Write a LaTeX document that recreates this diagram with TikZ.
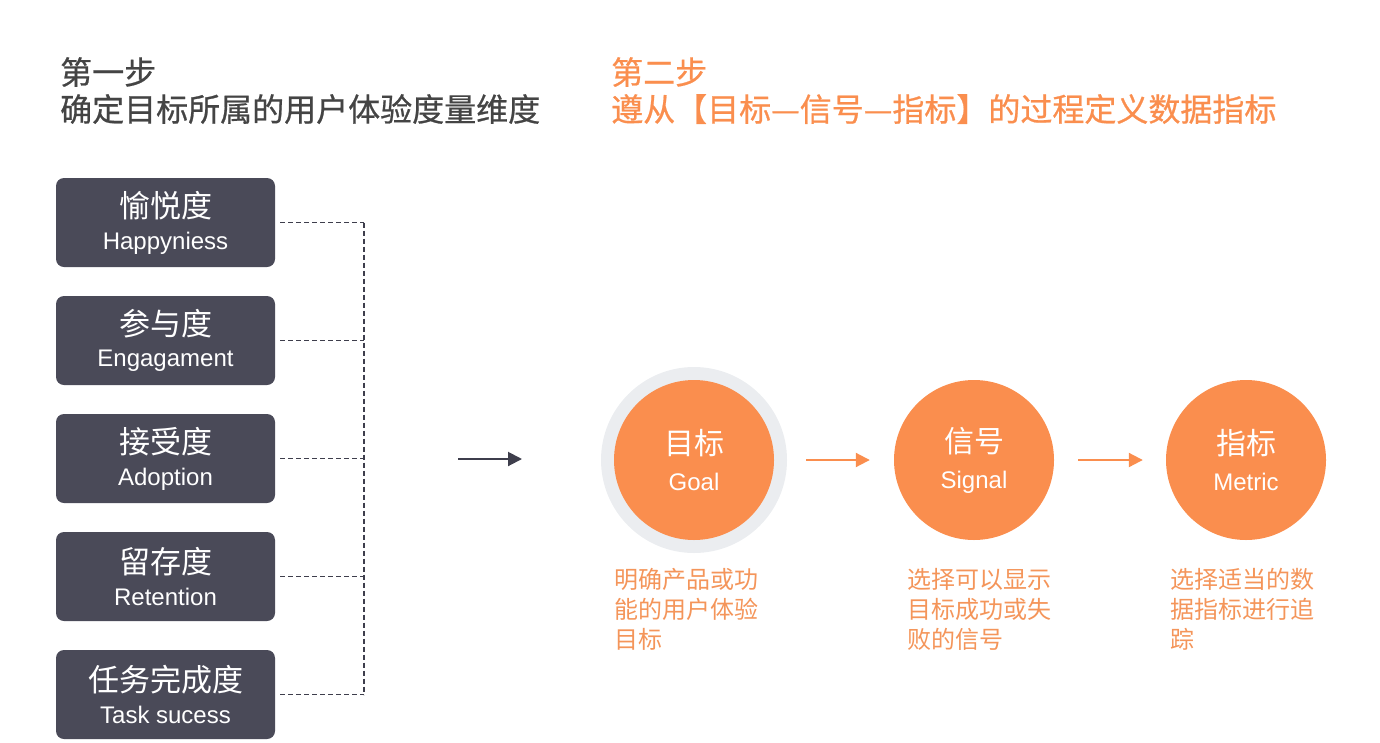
\documentclass[tikz,border=0pt]{standalone}
\usepackage{fontspec}
\newfontfamily\cjk{Noto Sans CJK SC}
\newfontfamily\cjkt[FakeBold=0.7]{Noto Sans CJK SC}
\newfontfamily\en{Liberation Sans}
\usetikzlibrary{arrows.meta}
\definecolor{boxc}{HTML}{4A4A58}
\definecolor{titlec}{HTML}{444444}
\definecolor{org}{HTML}{FA8E4E}
\definecolor{orgtxt}{HTML}{F4955A}
\definecolor{ringc}{HTML}{EBEDF0}
\definecolor{darkarrow}{HTML}{3E3E4C}
\tikzset{
  dimbox/.style={draw=none, fill=boxc, rounded corners=8pt, minimum width=219pt, minimum height=89pt, text=white, align=center, inner sep=0pt},
  circ/.style={circle, fill=org, minimum size=160pt, inner sep=0pt, text=white, align=center},
  ring/.style={circle, fill=ringc, minimum size=186pt, inner sep=0pt},
  dashconn/.style={draw=darkarrow, line width=1.8pt, dash pattern=on 5pt off 3pt},
  flow/.style={draw=org, line width=2pt, -{Triangle[length=14pt,width=14pt]}},
  caption/.style={anchor=north west, align=left, text=orgtxt, inner sep=0pt, font=\cjk\fontsize{24}{30}\selectfont},
  ttl/.style={anchor=north west, align=left, inner sep=0pt, font=\cjkt\fontsize{32}{37}\selectfont},
}
\newcommand{\bx}[2]{{\cjk\fontsize{31}{32}\selectfont #1}\\[11pt]{\en\fontsize{24}{24}\selectfont #2}}
\newcommand{\cx}[2]{{\cjk\fontsize{30}{32}\selectfont #1}\\[15pt]{\en\fontsize{24}{24}\selectfont #2}}
\begin{document}
\begin{tikzpicture}[x=1pt,y=-1pt]
\useasboundingbox (0,0) rectangle (1380,742);
% titles
\node[ttl, text=titlec] (t1) at (60,57) {第一步\\确定目标所属的用户体验度量维度};
\node[ttl, text=org] (t2) at (611,57) {第二步\\遵从【目标—信号—指标】的过程定义数据指标};
% boxes
\node[dimbox] (b1) at (165.5,222.5) {\bx{愉悦度}{Happyniess}};
\node[dimbox] (b2) at (165.5,340.5) {\bx{参与度}{Engagament}};
\node[dimbox] (b3) at (165.5,458.5) {\bx{接受度}{Adoption}};
\node[dimbox] (b4) at (165.5,576.5) {\bx{留存度}{Retention}};
\node[dimbox] (b5) at (165.5,694.5) {\bx{任务完成度}{Task sucess}};
\coordinate (bus) at (364,0);
\foreach \b in {b1,b2,b3,b4,b5}{
  \draw[dashconn, shorten <=5pt] (\b.east) -- (\b.east -| bus);
}
\draw[dashconn] (b1.east -| bus) -- (b5.east -| bus);
% dark arrow
\coordinate (da1) at (458,459);
\coordinate (da2) at (522,459);
\draw[draw=darkarrow, line width=2pt, -{Triangle[length=14pt,width=14pt]}] (da1) -- (da2);
% circles
\node[ring] (goalring) at (694,460) {};
\node[circ] (goal) at (694,460) {\cx{目标}{Goal}};
\node[circ] (signal) at (974,460) {\cx{信号}{Signal}};
\node[circ] (metric) at (1246,460) {\cx{指标}{Metric}};
\draw[flow, shorten <=19pt, shorten >=24pt] (goalring.east) -- (signal.west);
\draw[flow, shorten <=24pt, shorten >=23pt] (signal.east) -- (metric.west);
% captions
\node[caption] (c1) at (614,568) {明确产品或功\\能的用户体验\\目标};
\node[caption] (c2) at (907,568) {选择可以显示\\目标成功或失\\败的信号};
\node[caption] (c3) at (1170,568) {选择适当的数\\据指标进行追\\踪};
\end{tikzpicture}
\end{document}
